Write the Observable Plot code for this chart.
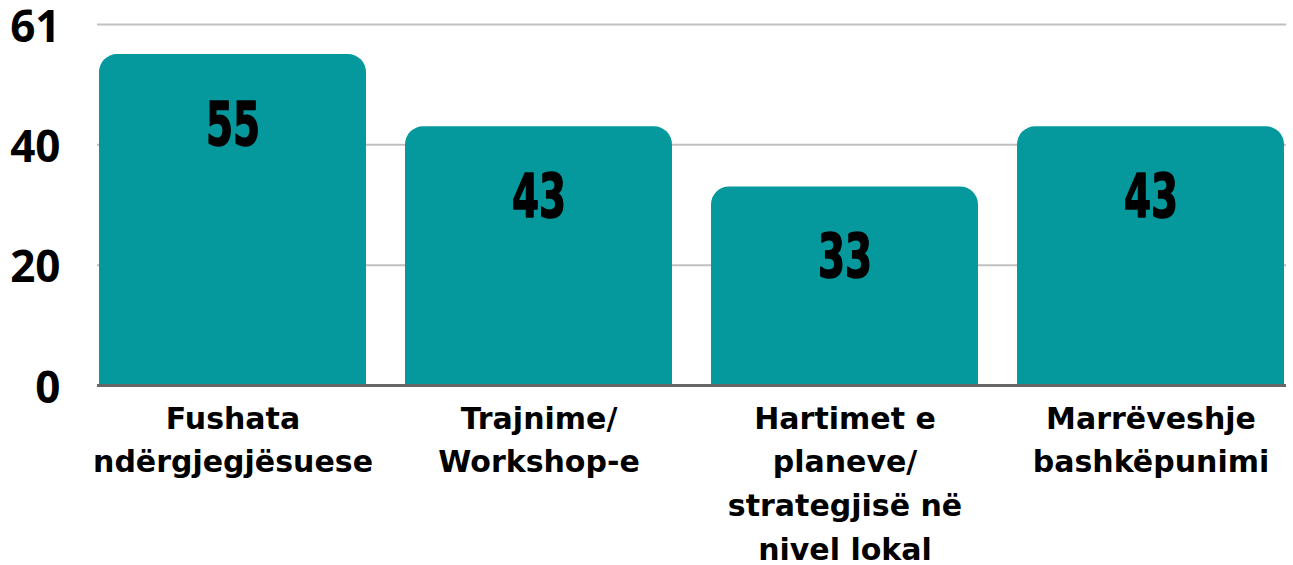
<!DOCTYPE html>
<html><head><meta charset="utf-8">
<script src="https://cdn.jsdelivr.net/npm/d3@7"></script>
<script src="https://cdn.jsdelivr.net/npm/@observablehq/plot@0.6"></script>
<style>body{margin:0;background:#fff;overflow:hidden}</style>
</head><body><div id="chart"></div>
<script>
const categories = ["Fushata\nndërgjegjësuese", "Trajnime/\nWorkshop-e", "Hartimet e\nplaneve/\nstrategjisë në\nnivel lokal", "Marrëveshje\nbashkëpunimi"];
const values = [55, 43, 33, 43];
const yTicks = [0, 20, 40, 60];
const yTickLabels = ["0", "20", "40", "61"];

const data = categories.map((c, i) => ({category: c, value: values[i]}));
const barColor = "#05999e";

const chart = Plot.plot({
  width: 1293, height: 565,
  marginLeft: 97, marginRight: 7, marginTop: 24, marginBottom: 180,
  style: {background: "#fff", color: "#000", overflow: "visible"},
  x: {domain: categories, paddingInner: 0.127, paddingOuter: 0, label: null},
  y: {domain: [0, 60], label: null},
  marks: [
    Plot.gridY(yTicks, {stroke: "#c0c0c0", strokeOpacity: 1, strokeWidth: 2}),
    Plot.barY(data, {x: "category", y: "value", fill: barColor, rx: 18}),
    Plot.barY(data, {x: "category", y1: 0, y2: d => d.value / 2, fill: barColor}),
    Plot.ruleY([0], {stroke: "#666", strokeWidth: 3}),
    Plot.axisY(yTicks, {tickSize: 0, tickPadding: 37, dy: 3, tickFormat: d => yTickLabels[yTicks.indexOf(d)],
      fontSize: 44, fontWeight: 700, fontFamily: "'Open Sans', sans-serif", label: null}),
    Plot.axisX({tickSize: 0, tickPadding: 12, fontSize: 30, fontWeight: 700, lineHeight: 1.46,
      fontFamily: "'DejaVu Sans', sans-serif", label: null}),
    Plot.text(data, {x: "category", y: "value", text: d => String(d.value), dy: 71,
      lineAnchor: "middle", fontSize: 60, fontWeight: 700, fill: "#000", stroke: "#000", strokeWidth: 1.5,
      fontFamily: "'Liberation Sans Narrow', 'DejaVu Sans Condensed', sans-serif", className: "vallab"})
  ]
});
document.getElementById("chart").append(chart);
chart.querySelectorAll(".vallab text").forEach(t => {
  const tr = t.getAttribute("transform");
  if (tr && tr.includes("translate")) t.setAttribute("transform", tr + " scale(0.72,1)");
});
</script>
</body></html>
